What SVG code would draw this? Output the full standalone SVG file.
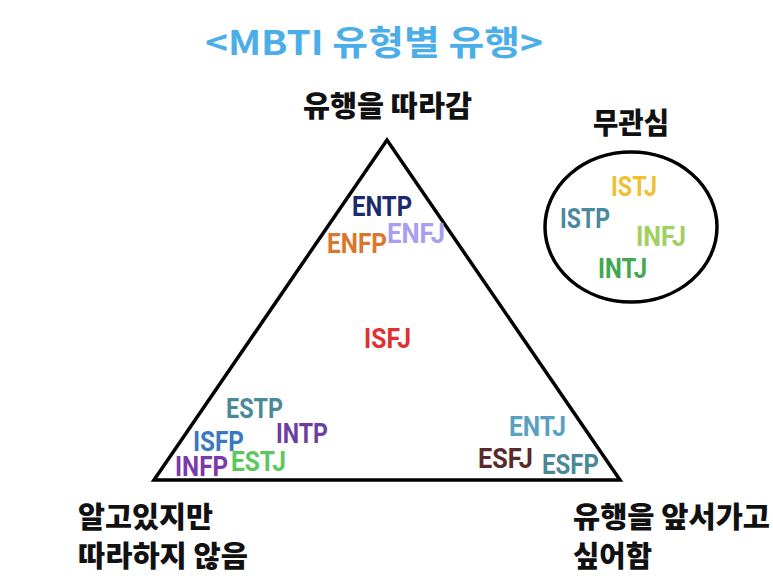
<svg xmlns="http://www.w3.org/2000/svg" width="773" height="588" viewBox="0 0 773 588">
<style>
.h{font-family:"Noto Sans CJK KR","Noto Sans",sans-serif;font-weight:900;fill:#111;font-size:29px}
.m{font-family:Roboto,"Liberation Sans",sans-serif;font-weight:bold;font-size:27px}
.shape{fill:none;stroke:#000;stroke-width:3.5}
</style>
<rect width="773" height="588" fill="#fff"/>
<text id="title" x="205" y="55" font-family="'Noto Sans CJK KR','Noto Sans',sans-serif" font-weight="bold" font-size="34" fill="#4BAEE8" textLength="338" lengthAdjust="spacingAndGlyphs">&lt;MBTI 유형별 유행&gt;</text>
<g id="pyramid">
<polygon class="shape" points="387,140 154,480 620,480" stroke-linejoin="miter"/>
</g>
<g id="indifferent">
<ellipse class="shape" cx="631" cy="227" rx="86" ry="75"/>
</g>
<g id="labels">
<text id="top" class="h" x="303" y="117" textLength="169" lengthAdjust="spacingAndGlyphs">유행을 따라감</text>
<text id="circ" class="h" x="593" y="134" textLength="76" lengthAdjust="spacingAndGlyphs">무관심</text>
<text class="h" x="78" y="528" textLength="135" lengthAdjust="spacingAndGlyphs">알고있지만</text>
<text class="h" x="78" y="567" textLength="170" lengthAdjust="spacingAndGlyphs">따라하지 않음</text>
<text class="h" x="573" y="528" textLength="197" lengthAdjust="spacingAndGlyphs">유행을 앞서가고</text>
<text class="h" x="573" y="567" textLength="79" lengthAdjust="spacingAndGlyphs">싶어함</text>
</g>
<g id="types">
<text class="m" x="352" y="216" fill="#1B2A6B" textLength="60" lengthAdjust="spacingAndGlyphs">ENTP</text>
<text class="m" x="327" y="253" fill="#D9782D" textLength="60" lengthAdjust="spacingAndGlyphs">ENFP</text>
<text class="m" x="387" y="243" fill="#A89EF0" textLength="58" lengthAdjust="spacingAndGlyphs">ENFJ</text>
<text class="m" x="364" y="348" fill="#E03030" textLength="47" lengthAdjust="spacingAndGlyphs">ISFJ</text>
<text class="m" x="226" y="418" fill="#4A8A98" textLength="57" lengthAdjust="spacingAndGlyphs">ESTP</text>
<text class="m" x="276" y="443" fill="#6B3FA0" textLength="52" lengthAdjust="spacingAndGlyphs">INTP</text>
<text class="m" x="193" y="451" fill="#3A78C0" textLength="51" lengthAdjust="spacingAndGlyphs">ISFP</text>
<text class="m" x="175" y="476" fill="#7A3AA8" textLength="53" lengthAdjust="spacingAndGlyphs">INFP</text>
<text class="m" x="231" y="471" fill="#5CC85C" textLength="55" lengthAdjust="spacingAndGlyphs">ESTJ</text>
<text class="m" x="509" y="436" fill="#5AA0C0" textLength="57" lengthAdjust="spacingAndGlyphs">ENTJ</text>
<text class="m" x="478" y="468" fill="#5A2A2A" textLength="55" lengthAdjust="spacingAndGlyphs">ESFJ</text>
<text class="m" x="542" y="474" fill="#4A8898" textLength="57" lengthAdjust="spacingAndGlyphs">ESFP</text>
<text class="m" x="611" y="196" fill="#F0C030" textLength="46" lengthAdjust="spacingAndGlyphs">ISTJ</text>
<text class="m" x="560" y="228" fill="#4A88A0" textLength="50" lengthAdjust="spacingAndGlyphs">ISTP</text>
<text class="m" x="636" y="246" fill="#A0D060" textLength="50" lengthAdjust="spacingAndGlyphs">INFJ</text>
<text class="m" x="598" y="278" fill="#40A850" textLength="49" lengthAdjust="spacingAndGlyphs">INTJ</text>
</g>
</svg>
